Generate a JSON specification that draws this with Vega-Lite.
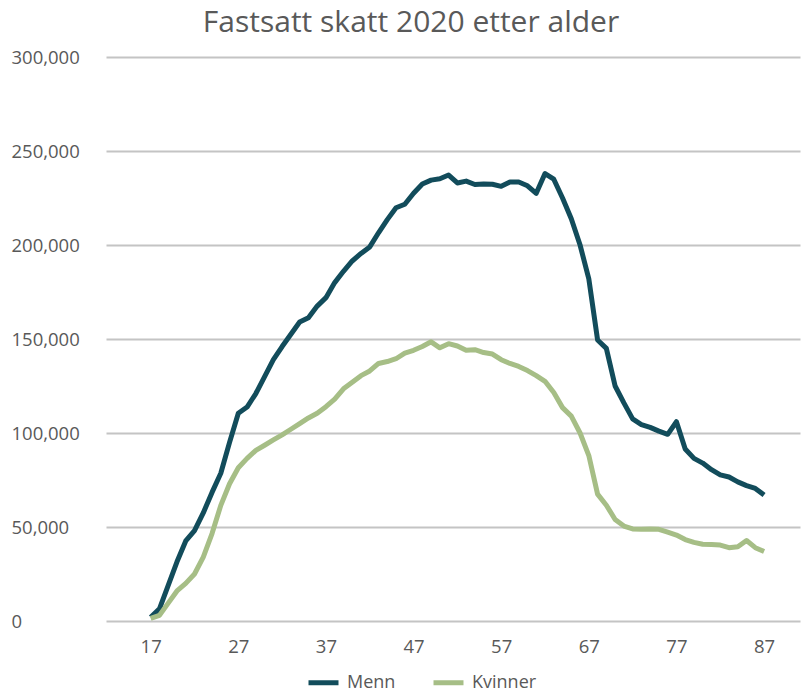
{
  "$schema": "https://vega.github.io/schema/vega-lite/v6.json",
  "width": 694,
  "height": 564,
  "autosize": {"type": "none"},
  "padding": {"left": 106, "top": 57, "right": 2, "bottom": 72},
  "background": "white",
  "config": {"view": {"stroke": null}, "font": "Open Sans"},
  "title": {"text": "Fastsatt skatt 2020 etter alder", "fontSize": 30, "fontWeight": "normal", "color": "#595959", "anchor": "middle", "frame": "group", "dx": -42, "dy": 40, "offset": 20, "baseline": "bottom", "font": "Open Sans"},
  "data": {"values": [
    {"alder":17,"kjonn":"Menn","skatt":2000},{"alder":18,"kjonn":"Menn","skatt":6500},{"alder":19,"kjonn":"Menn","skatt":19000},{"alder":20,"kjonn":"Menn","skatt":31500},{"alder":21,"kjonn":"Menn","skatt":42600},{"alder":22,"kjonn":"Menn","skatt":48100},{"alder":23,"kjonn":"Menn","skatt":57500},{"alder":24,"kjonn":"Menn","skatt":68400},{"alder":25,"kjonn":"Menn","skatt":78600},{"alder":26,"kjonn":"Menn","skatt":95000},{"alder":27,"kjonn":"Menn","skatt":110500},{"alder":28,"kjonn":"Menn","skatt":113800},{"alder":29,"kjonn":"Menn","skatt":121000},{"alder":30,"kjonn":"Menn","skatt":130000},{"alder":31,"kjonn":"Menn","skatt":139000},{"alder":32,"kjonn":"Menn","skatt":146000},{"alder":33,"kjonn":"Menn","skatt":152500},{"alder":34,"kjonn":"Menn","skatt":159000},{"alder":35,"kjonn":"Menn","skatt":161300},{"alder":36,"kjonn":"Menn","skatt":167500},{"alder":37,"kjonn":"Menn","skatt":172000},{"alder":38,"kjonn":"Menn","skatt":180000},{"alder":39,"kjonn":"Menn","skatt":186000},{"alder":40,"kjonn":"Menn","skatt":191500},{"alder":41,"kjonn":"Menn","skatt":195500},{"alder":42,"kjonn":"Menn","skatt":199000},{"alder":43,"kjonn":"Menn","skatt":206500},{"alder":44,"kjonn":"Menn","skatt":213500},{"alder":45,"kjonn":"Menn","skatt":219800},{"alder":46,"kjonn":"Menn","skatt":221700},{"alder":47,"kjonn":"Menn","skatt":227500},{"alder":48,"kjonn":"Menn","skatt":232400},{"alder":49,"kjonn":"Menn","skatt":234500},{"alder":50,"kjonn":"Menn","skatt":235200},{"alder":51,"kjonn":"Menn","skatt":237200},{"alder":52,"kjonn":"Menn","skatt":233000},{"alder":53,"kjonn":"Menn","skatt":234000},{"alder":54,"kjonn":"Menn","skatt":232200},{"alder":55,"kjonn":"Menn","skatt":232500},{"alder":56,"kjonn":"Menn","skatt":232300},{"alder":57,"kjonn":"Menn","skatt":231200},{"alder":58,"kjonn":"Menn","skatt":233500},{"alder":59,"kjonn":"Menn","skatt":233500},{"alder":60,"kjonn":"Menn","skatt":231500},{"alder":61,"kjonn":"Menn","skatt":227500},{"alder":62,"kjonn":"Menn","skatt":238000},{"alder":63,"kjonn":"Menn","skatt":235000},{"alder":64,"kjonn":"Menn","skatt":225000},{"alder":65,"kjonn":"Menn","skatt":214000},{"alder":66,"kjonn":"Menn","skatt":200000},{"alder":67,"kjonn":"Menn","skatt":182000},{"alder":68,"kjonn":"Menn","skatt":149500},{"alder":69,"kjonn":"Menn","skatt":145000},{"alder":70,"kjonn":"Menn","skatt":125000},{"alder":71,"kjonn":"Menn","skatt":116000},{"alder":72,"kjonn":"Menn","skatt":107500},{"alder":73,"kjonn":"Menn","skatt":104500},{"alder":74,"kjonn":"Menn","skatt":103000},{"alder":75,"kjonn":"Menn","skatt":101000},{"alder":76,"kjonn":"Menn","skatt":99300},{"alder":77,"kjonn":"Menn","skatt":106000},{"alder":78,"kjonn":"Menn","skatt":91500},{"alder":79,"kjonn":"Menn","skatt":86500},{"alder":80,"kjonn":"Menn","skatt":84000},{"alder":81,"kjonn":"Menn","skatt":80500},{"alder":82,"kjonn":"Menn","skatt":77700},{"alder":83,"kjonn":"Menn","skatt":76600},{"alder":84,"kjonn":"Menn","skatt":74000},{"alder":85,"kjonn":"Menn","skatt":72000},{"alder":86,"kjonn":"Menn","skatt":70500},{"alder":87,"kjonn":"Menn","skatt":67000},
    {"alder":17,"kjonn":"Kvinner","skatt":1400},{"alder":18,"kjonn":"Kvinner","skatt":3000},{"alder":19,"kjonn":"Kvinner","skatt":9500},{"alder":20,"kjonn":"Kvinner","skatt":16000},{"alder":21,"kjonn":"Kvinner","skatt":20000},{"alder":22,"kjonn":"Kvinner","skatt":25000},{"alder":23,"kjonn":"Kvinner","skatt":34000},{"alder":24,"kjonn":"Kvinner","skatt":46500},{"alder":25,"kjonn":"Kvinner","skatt":61500},{"alder":26,"kjonn":"Kvinner","skatt":73000},{"alder":27,"kjonn":"Kvinner","skatt":81500},{"alder":28,"kjonn":"Kvinner","skatt":86500},{"alder":29,"kjonn":"Kvinner","skatt":90800},{"alder":30,"kjonn":"Kvinner","skatt":93500},{"alder":31,"kjonn":"Kvinner","skatt":96300},{"alder":32,"kjonn":"Kvinner","skatt":99000},{"alder":33,"kjonn":"Kvinner","skatt":102000},{"alder":34,"kjonn":"Kvinner","skatt":105000},{"alder":35,"kjonn":"Kvinner","skatt":108000},{"alder":36,"kjonn":"Kvinner","skatt":110500},{"alder":37,"kjonn":"Kvinner","skatt":114000},{"alder":38,"kjonn":"Kvinner","skatt":118000},{"alder":39,"kjonn":"Kvinner","skatt":123500},{"alder":40,"kjonn":"Kvinner","skatt":127000},{"alder":41,"kjonn":"Kvinner","skatt":130500},{"alder":42,"kjonn":"Kvinner","skatt":133000},{"alder":43,"kjonn":"Kvinner","skatt":137000},{"alder":44,"kjonn":"Kvinner","skatt":138000},{"alder":45,"kjonn":"Kvinner","skatt":139500},{"alder":46,"kjonn":"Kvinner","skatt":142500},{"alder":47,"kjonn":"Kvinner","skatt":144000},{"alder":48,"kjonn":"Kvinner","skatt":146000},{"alder":49,"kjonn":"Kvinner","skatt":148500},{"alder":50,"kjonn":"Kvinner","skatt":145300},{"alder":51,"kjonn":"Kvinner","skatt":147500},{"alder":52,"kjonn":"Kvinner","skatt":146300},{"alder":53,"kjonn":"Kvinner","skatt":144000},{"alder":54,"kjonn":"Kvinner","skatt":144300},{"alder":55,"kjonn":"Kvinner","skatt":142800},{"alder":56,"kjonn":"Kvinner","skatt":142000},{"alder":57,"kjonn":"Kvinner","skatt":139000},{"alder":58,"kjonn":"Kvinner","skatt":137000},{"alder":59,"kjonn":"Kvinner","skatt":135400},{"alder":60,"kjonn":"Kvinner","skatt":133200},{"alder":61,"kjonn":"Kvinner","skatt":130500},{"alder":62,"kjonn":"Kvinner","skatt":127500},{"alder":63,"kjonn":"Kvinner","skatt":121500},{"alder":64,"kjonn":"Kvinner","skatt":113500},{"alder":65,"kjonn":"Kvinner","skatt":109000},{"alder":66,"kjonn":"Kvinner","skatt":100000},{"alder":67,"kjonn":"Kvinner","skatt":88000},{"alder":68,"kjonn":"Kvinner","skatt":67500},{"alder":69,"kjonn":"Kvinner","skatt":61600},{"alder":70,"kjonn":"Kvinner","skatt":54000},{"alder":71,"kjonn":"Kvinner","skatt":50500},{"alder":72,"kjonn":"Kvinner","skatt":49000},{"alder":73,"kjonn":"Kvinner","skatt":48800},{"alder":74,"kjonn":"Kvinner","skatt":48900},{"alder":75,"kjonn":"Kvinner","skatt":48800},{"alder":76,"kjonn":"Kvinner","skatt":47300},{"alder":77,"kjonn":"Kvinner","skatt":45700},{"alder":78,"kjonn":"Kvinner","skatt":43300},{"alder":79,"kjonn":"Kvinner","skatt":41800},{"alder":80,"kjonn":"Kvinner","skatt":40800},{"alder":81,"kjonn":"Kvinner","skatt":40700},{"alder":82,"kjonn":"Kvinner","skatt":40400},{"alder":83,"kjonn":"Kvinner","skatt":39000},{"alder":84,"kjonn":"Kvinner","skatt":39500},{"alder":85,"kjonn":"Kvinner","skatt":42800},{"alder":86,"kjonn":"Kvinner","skatt":39000},{"alder":87,"kjonn":"Kvinner","skatt":37000}
  ]},
  "mark": {"type": "line", "strokeWidth": 5, "strokeJoin": "round", "clip": true},
  "encoding": {
    "x": {"field": "alder", "type": "quantitative",
      "scale": {"domain": [11.9, 91.1], "nice": false, "zero": false},
      "axis": {"title": null, "values": [17,27,37,47,57,67,77,87], "format": "d", "grid": false, "domain": false, "ticks": false, "labelFontSize": 18.5, "labelColor": "#595959", "labelPadding": 16, "labelFont": "Open Sans"}},
    "y": {"field": "skatt", "type": "quantitative",
      "scale": {"domain": [0, 300000], "nice": false},
      "axis": {"title": null, "values": [0,50000,100000,150000,200000,250000,300000], "format": ",.0f", "domain": false, "ticks": false, "grid": true, "gridColor": "#C4C4C4", "gridWidth": 2, "labelFontSize": 18.5, "labelColor": "#595959", "labelAlign": "left", "labelPadding": 95, "labelFont": "Open Sans"}},
    "color": {"field": "kjonn", "type": "nominal",
      "scale": {"domain": ["Menn", "Kvinner"], "range": ["#124C5B", "#A6BE86"]},
      "legend": {"title": null, "orient": "none", "legendX": 200, "legendY": 608, "direction": "horizontal", "symbolType": "stroke", "symbolSize": 900, "symbolStrokeWidth": 5, "labelFontSize": 18, "labelColor": "#595959", "labelFont": "Open Sans", "columnPadding": 27, "labelOffset": 6}}
  }
}
